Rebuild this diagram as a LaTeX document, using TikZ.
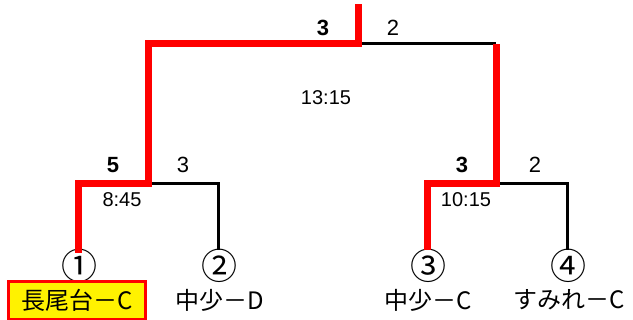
\documentclass[tikz,border=0pt]{standalone}
\usepackage{fontspec}
\setmainfont{Noto Sans CJK JP}
\newfontfamily\numfont{Liberation Sans}
\begin{document}
\begin{tikzpicture}[x=1pt,y=-1pt,
  win/.style={draw=red,line width=7pt},
  lose/.style={draw=black,line width=3pt},
  seed/.style={font=\fontsize{36}{36}\selectfont,inner sep=0pt},
  team/.style={font=\fontsize{24}{24}\selectfont,inner sep=0pt},
  score/.style={font=\numfont\fontsize{22}{22}\selectfont,inner sep=0pt},
  wscore/.style={score,font=\numfont\bfseries\fontsize{22}{22}\selectfont},
  time/.style={font=\numfont\fontsize{20}{20}\selectfont,inner sep=0pt}]
\useasboundingbox (0,0) rectangle (633,320);
% junctions
\coordinate (top) at (358,8);
\coordinate (f) at (358,44);
\coordinate (fl) at (148,44);
\coordinate (fr) at (496,44);
\coordinate (m1) at (148,184);
\coordinate (m2) at (496,184);
\coordinate (m1l) at (78,184);
\coordinate (m1r) at (218,184);
\coordinate (m2l) at (427,184);
\coordinate (m2r) at (567,184);
% seeds
\node[seed] (n1) at (79,266) {①};
\node[seed] (n2) at (219,266) {②};
\node[seed] (n3) at (428,266) {③};
\node[seed] (n4) at (568,266) {④};
\coordinate (e1) at (78,250);
\coordinate (e2) at (218,250);
\coordinate (e3) at (427,250);
\coordinate (e4) at (567,250);
% teams
\node[team,draw=red,line width=3pt,fill=yellow,minimum width=137pt,minimum height=38pt] (t1) at (77,300.5) {長尾台－C};
\node[team] (t2) at (220,300) {中少－D};
\node[team] (t3) at (428,300) {中少－C};
\node[team] (t4) at (569,300) {すみれ－C};
% lines
\draw[lose] (m1) -- (m1r) -- (e2);
\draw[lose] (m2) -- (m2r) -- (e4);
\draw[lose] (f) -- (fr);
\draw[win,line cap=rect] (e1) -- (m1l) -- (m1) -- (fl) -- (f) -- (top);
\draw[win] (e3) -- (m2l) -- (m2) -- (fr);
% scores
\node[wscore] (s1) at (113,165) {5};
\node[score] (s2) at (183,165) {3};
\node[wscore] (s3) at (462,165) {3};
\node[score] (s4) at (535,165) {2};
\node[wscore] (s5) at (323,28) {3};
\node[score] (s6) at (393,28) {2};
% times
\node[time] (tm1) at (122,200) {8:45};
\node[time] (tm2) at (466,200) {10:15};
\node[time] (tm3) at (326,98) {13:15};
\end{tikzpicture}
\end{document}
